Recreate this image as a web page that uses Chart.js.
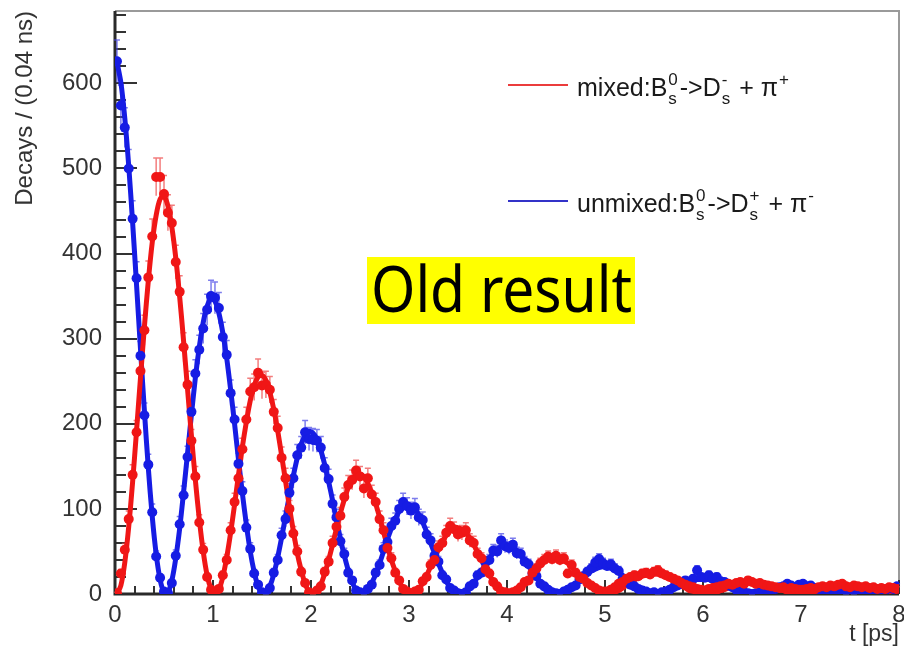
<!DOCTYPE html>
<html>
<head>
<meta charset="utf-8">
<title>Bs mixing: decay time</title>
<script src="https://cdn.jsdelivr.net/npm/chart.js@4.4.1/dist/chart.umd.min.js"></script>
<style>
  html, body { margin: 0; padding: 0; background: #fff; }
  #wrap { width: 904px; height: 648px; }
</style>
</head>
<body>
<div id="wrap"><canvas id="decayChart" width="904" height="648"></canvas></div>
<script>
// 200 bins of 0.04 ps between 0 and 8 ps
const binWidth = 0.04;
const binTimes = Array.from({ length: 200 }, (_, i) => +(binWidth / 2 + i * binWidth).toFixed(2));

const xTicks = [0, 1, 2, 3, 4, 5, 6, 7, 8];
const yTicks = [0, 100, 200, 300, 400, 500, 600];

// measured points (one row per ps)
const unmixedCounts = [
  626, 574, 548, 500, 441, 371, 280, 210, 152, 96, 44, 19, 3, 1, 13, 45, 82, 116, 161, 214, 259, 287, 312, 334, 350,
  348, 336, 302, 281, 236, 205, 153, 121, 78, 53, 24, 11, 2, 0, 7, 25, 40, 69, 88, 119, 136, 163, 172, 190, 182,
  181, 180, 172, 148, 135, 106, 90, 62, 47, 25, 16, 4, 2, 0, 6, 11, 25, 34, 53, 61, 80, 86, 100, 108, 103,
  98, 102, 90, 87, 70, 63, 45, 38, 22, 17, 7, 4, 1, 0, 2, 9, 12, 22, 25, 37, 40, 51, 50, 63, 56,
  54, 58, 48, 47, 38, 35, 24, 21, 12, 9, 5, 2, 1, 0, 3, 5, 8, 10, 17, 21, 26, 30, 37, 41, 36,
  33, 35, 30, 27, 18, 15, 11, 9, 6, 4, 3, 1, 2, 0, 2, 3, 5, 8, 10, 13, 16, 14, 18, 28, 20,
  19, 22, 18, 20, 15, 14, 10, 8, 5, 4, 2, 1, 0, 1, 2, 3, 4, 5, 6, 8, 9, 12, 10, 8, 11,
  12, 9, 10, 7, 6, 5, 4, 3, 2, 2, 1, 0, 1, 0, 1, 2, 2, 3, 4, 5, 6, 4, 7, 6, 9
];
const mixedCounts = [
  1, 24, 52, 88, 140, 190, 262, 310, 372, 420, 490, 490, 470, 448, 436, 390, 355, 290, 246, 180, 138, 84, 52, 20, 5,
  2, 6, 22, 40, 75, 108, 136, 170, 205, 238, 243, 260, 245, 246, 240, 214, 195, 160, 136, 100, 71, 50, 26, 13, 2,
  0, 4, 9, 26, 38, 60, 79, 92, 114, 128, 134, 145, 138, 124, 136, 117, 108, 88, 75, 54, 42, 25, 16, 6, 3,
  1, 3, 5, 15, 20, 34, 40, 55, 60, 72, 80, 76, 70, 72, 75, 63, 60, 47, 42, 29, 24, 14, 9, 3, 2,
  1, 2, 4, 8, 14, 16, 25, 30, 36, 40, 44, 41, 45, 40, 42, 24, 34, 25, 20, 18, 13, 10, 7, 4, 3,
  3, 5, 8, 12, 14, 18, 20, 22, 21, 24, 25, 23, 26, 28, 24, 22, 20, 18, 16, 13, 11, 9, 8, 6, 5,
  4, 6, 7, 8, 9, 10, 12, 11, 13, 14, 12, 16, 14, 12, 13, 11, 10, 9, 8, 7, 8, 6, 7, 6, 5,
  5, 6, 7, 6, 8, 9, 8, 10, 9, 11, 12, 9, 8, 10, 9, 8, 9, 7, 8, 6, 7, 6, 8, 7, 6
];

// fitted curves
const unmixedFit = [
  625, 601, 559, 503, 436, 363, 288, 215, 148, 91, 47, 17, 2, 2, 16, 42, 77, 120, 165, 211, 254, 290, 319, 338, 347,
  344, 330, 307, 277, 240, 200, 158, 118, 82, 50, 26, 9, 1, 1, 9, 23, 43, 66, 91, 116, 139, 160, 176, 186, 191,
  189, 182, 169, 152, 132, 110, 87, 65, 45, 28, 14, 5, 1, 1, 5, 13, 23, 36, 50, 64, 77, 88, 97, 102, 105,
  104, 100, 93, 84, 73, 60, 48, 36, 25, 15, 8, 3, 0, 0, 3, 7, 13, 20, 27, 35, 42, 48, 53, 56, 58,
  57, 55, 51, 46, 40, 33, 26, 20, 14, 8, 4, 2, 0, 0, 1, 4, 7, 11, 15, 19, 23, 27, 29, 31, 32,
  31, 30, 28, 25, 22, 18, 14, 11, 7, 5, 2, 1, 0, 0, 1, 2, 4, 6, 8, 11, 13, 15, 16, 17, 17,
  17, 17, 15, 14, 12, 10, 8, 6, 4, 3, 1, 0, 0, 0, 0, 1, 2, 3, 5, 6, 7, 8, 9, 9, 10,
  10, 9, 9, 8, 7, 6, 4, 3, 2, 1, 1, 0, 0, 0, 0, 1, 1, 2, 3, 3, 4, 4, 5, 5, 5
];
const mixedFit = [
  0, 10, 37, 79, 132, 192, 254, 314, 368, 413, 445, 464, 467, 456, 431, 395, 349, 297, 241, 186, 134, 88, 50, 22, 6,
  0, 5, 20, 43, 72, 105, 140, 173, 202, 227, 245, 255, 257, 251, 237, 217, 192, 163, 133, 102, 74, 48, 28, 12, 3,
  0, 3, 11, 24, 40, 58, 77, 95, 111, 125, 135, 140, 141, 138, 130, 119, 106, 90, 73, 56, 40, 27, 15, 7, 2,
  0, 2, 6, 13, 22, 32, 42, 52, 61, 69, 74, 77, 78, 76, 72, 66, 58, 49, 40, 31, 22, 15, 8, 4, 1,
  0, 1, 3, 7, 12, 18, 23, 29, 34, 38, 41, 42, 43, 42, 39, 36, 32, 27, 22, 17, 12, 8, 5, 2, 1,
  0, 0, 2, 4, 7, 10, 13, 16, 19, 21, 22, 23, 24, 23, 22, 20, 18, 15, 12, 9, 7, 4, 3, 1, 0,
  0, 0, 1, 2, 4, 5, 7, 9, 10, 11, 12, 13, 13, 13, 12, 11, 10, 8, 7, 5, 4, 2, 1, 1, 0,
  0, 0, 1, 1, 2, 3, 4, 5, 6, 6, 7, 7, 7, 7, 7, 6, 5, 5, 4, 3, 2, 1, 1, 0, 0
];

const RED = 'rgb(240,22,22)';
const BLUE = 'rgb(22,28,228)';
const FONT = '"Liberation Sans", Arial, Helvetica, sans-serif';

const toXY = arr => arr.map((v, i) => ({ x: binTimes[i], y: v }));

// frame and ROOT-like inward ticks
const frameTicks = {
  id: 'frameTicks',
  beforeDatasetsDraw(chart) {
    const { ctx, chartArea: a, scales: { x, y } } = chart;
    ctx.save();
    ctx.strokeStyle = '#9a9a9a';
    ctx.lineWidth = 2;
    ctx.beginPath();
    ctx.moveTo(a.left, a.top);
    ctx.lineTo(a.right, a.top);
    ctx.lineTo(a.right, a.bottom);
    ctx.stroke();

    ctx.strokeStyle = '#333';
    ctx.lineWidth = 2;
    ctx.beginPath();
    for (let v = 0; v <= y.max; v += 20) {
      const py = Math.round(y.getPixelForValue(v));
      const len = v % 100 === 0 ? 22 : 11;
      ctx.moveTo(a.left, py);
      ctx.lineTo(a.left + len, py);
    }
    for (let i = 0; i <= 40; i++) {
      const px = Math.round(x.getPixelForValue(i * 0.2));
      const len = i % 5 === 0 ? 14 : 8;
      ctx.moveTo(px, a.bottom);
      ctx.lineTo(px, a.bottom - len);
    }
    ctx.stroke();

    ctx.strokeStyle = '#2a2a2a';
    ctx.lineWidth = 3;
    ctx.beginPath();
    ctx.moveTo(a.left, a.top);
    ctx.lineTo(a.left, a.bottom);
    ctx.lineTo(a.right, a.bottom);
    ctx.stroke();
    ctx.restore();
  }
};

// poisson error bars under the points
const errorBars = {
  id: 'errorBars',
  beforeDatasetsDraw(chart) {
    const { ctx, scales: { y } } = chart;
    ctx.save();
    ctx.lineWidth = 1.5;
    chart.data.datasets.forEach((ds, di) => {
      if (!ds.errorColor) return;
      const meta = chart.getDatasetMeta(di);
      ctx.strokeStyle = ds.errorColor;
      ctx.beginPath();
      meta.data.forEach((pt, i) => {
        const v = ds.data[i].y;
        const e = Math.sqrt(v);
        const top = y.getPixelForValue(v + e);
        const bot = y.getPixelForValue(Math.max(0, v - e));
        ctx.moveTo(pt.x, top);
        ctx.lineTo(pt.x, bot);
        ctx.moveTo(pt.x - 3, top);
        ctx.lineTo(pt.x + 3, top);
      });
      ctx.stroke();
    });
    ctx.restore();
  }
};

function drawRich(ctx, x, y, parts, size) {
  const big = size + 'px ' + FONT;
  const small = Math.round(size * 0.68) + 'px ' + FONT;
  let cx = x;
  parts.forEach(p => {
    if (typeof p === 'string') {
      ctx.font = big;
      ctx.fillText(p, cx, y);
      cx += ctx.measureText(p).width;
    } else {
      ctx.font = small;
      let w = 0;
      if (p.sup) {
        ctx.fillText(p.sup, cx + 1, y - size * 0.45);
        w = Math.max(w, ctx.measureText(p.sup).width);
      }
      if (p.sub) {
        ctx.fillText(p.sub, cx + 1, y + size * 0.3);
        w = Math.max(w, ctx.measureText(p.sub).width);
      }
      cx += w + 3;
    }
  });
}

const legendItems = [
  { color: 'rgb(235,60,60)', y: 85, parts: ['mixed:B', { sup: '0', sub: 's' }, '->D', { sup: '-', sub: 's' }, ' + \u03c0', { sup: '+' }] },
  { color: 'rgb(50,50,200)', y: 201, parts: ['unmixed:B', { sup: '0', sub: 's' }, '->D', { sup: '+', sub: 's' }, ' + \u03c0', { sup: '-' }] }
];

const overlay = {
  id: 'overlay',
  afterDraw(chart) {
    const ctx = chart.ctx;
    ctx.save();
    legendItems.forEach(it => {
      ctx.strokeStyle = it.color;
      ctx.lineWidth = 2;
      ctx.beginPath();
      ctx.moveTo(508, it.y);
      ctx.lineTo(568, it.y);
      ctx.stroke();
      ctx.fillStyle = '#1a1a1a';
      ctx.textBaseline = 'alphabetic';
      ctx.textAlign = 'left';
      drawRich(ctx, 577, it.y + 11, it.parts, 25);
    });

    // highlighted note
    ctx.fillStyle = '#ffff00';
    ctx.fillRect(367, 257, 268, 67);
    ctx.fillStyle = '#000';
    ctx.font = '400 63px "Noto Sans", "Open Sans", sans-serif';
    const w = ctx.measureText('Old result').width;
    ctx.translate(371, 312);
    ctx.scale(261 / w, 1);
    ctx.fillText('Old result', 0, 0);
    ctx.restore();
  }
};

new Chart(document.getElementById('decayChart'), {
  type: 'line',
  data: {
    datasets: [
      { label: 'mixed', data: toXY(mixedCounts), showLine: false, pointRadius: 5, pointBorderWidth: 0,
        pointBackgroundColor: RED, borderColor: RED, errorColor: 'rgba(236,70,70,0.7)' },
      { label: 'unmixed', data: toXY(unmixedCounts), showLine: false, pointRadius: 5, pointBorderWidth: 0,
        pointBackgroundColor: BLUE, borderColor: BLUE, errorColor: 'rgba(70,70,230,0.7)' },
      { label: 'mixed fit', data: toXY(mixedFit), borderColor: RED, borderWidth: 5, pointRadius: 0, tension: 0.3 },
      { label: 'unmixed fit', data: toXY(unmixedFit), borderColor: BLUE, borderWidth: 5, pointRadius: 0, tension: 0.3 }
    ]
  },
  options: {
    responsive: false,
    animation: false,
    devicePixelRatio: 1,
    layout: { padding: { left: 0, top: 11, right: 4, bottom: 0 } },
    plugins: { legend: { display: false }, tooltip: { enabled: false } },
    scales: {
      x: {
        type: 'linear', min: 0, max: 8,
        grid: { display: false }, border: { display: false },
        afterBuildTicks: s => { s.ticks = xTicks.map(v => ({ value: v })); },
        afterFit: s => { s.height = 54; s.paddingLeft = 0; s.paddingRight = 0; },
        ticks: { color: '#333', padding: 1, maxRotation: 0, font: { family: FONT, size: 24, lineHeight: 1 } },
        title: { display: true, text: 't [ps]', align: 'end', color: '#333',
                 font: { family: FONT, size: 23 }, padding: { top: 0, bottom: 0 } }
      },
      y: {
        type: 'linear', min: 0, max: 685,
        grid: { display: false }, border: { display: false },
        afterBuildTicks: s => { s.ticks = yTicks.map(v => ({ value: v })); },
        afterFit: s => { s.width = 115; s.paddingTop = 0; s.paddingBottom = 0; },
        ticks: { color: '#333', padding: 5, font: { family: FONT, size: 24 } },
        title: { display: true, text: 'Decays / (0.04 ns)', align: 'end', color: '#333',
                 font: { family: FONT, size: 24 }, padding: { top: 11, bottom: 0 } }
      }
    }
  },
  plugins: [frameTicks, errorBars, overlay]
});
</script>
</body>
</html>
